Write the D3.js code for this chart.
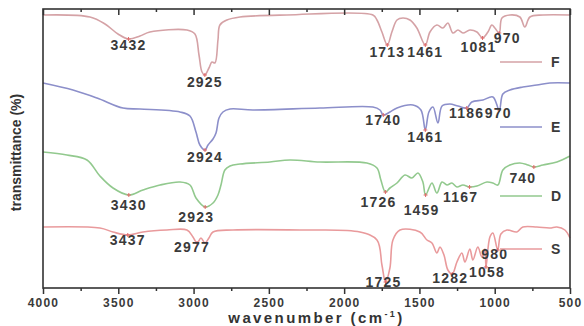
<!DOCTYPE html>
<html>
<head>
<meta charset="utf-8">
<script src="https://cdn.jsdelivr.net/npm/d3@7"></script>
<style>
  body { margin: 0; background: #fff; }
  svg { display: block; }
  text { font-family: "Liberation Sans", Arial, sans-serif; font-weight: bold; }
</style>
</head>
<body>
<div id="chart"></div>
<script>
// spectra: [wavenumber, transmittance (offset, arbitrary units)]
const seriesF = [
  [4000, 273], [3688, 271], [3588, 264], [3502, 254], [3432, 249], [3356, 252], [3290, 256],
  [3044, 258], [2991, 254], [2964, 233], [2944, 216], [2925, 213], [2898, 220], [2878, 226],
  [2858, 225], [2838, 248], [2825, 263], [2778, 268], [2692, 271], [2380, 273], [1809, 273],
  [1782, 268], [1749, 256], [1713, 243], [1683, 256], [1649, 268], [1610, 270], [1563, 268],
  [1517, 260], [1461, 243], [1430, 256], [1384, 263], [1344, 260], [1311, 265], [1278, 255],
  [1244, 258], [1211, 255], [1165, 258], [1118, 256], [1081, 250], [1045, 256], [1019, 263],
  [999, 260], [970, 255], [952, 270], [899, 273], [833, 271], [800, 261], [766, 271],
  [680, 273], [500, 273]
];
const seriesE = [
  [4000, 205], [3801, 198], [3641, 190], [3469, 180], [3356, 179], [3090, 176], [3024, 172],
  [2984, 156], [2958, 143], [2924, 138], [2904, 143], [2871, 149], [2851, 155], [2831, 170],
  [2805, 176], [2758, 179], [2606, 178], [2161, 180], [1809, 181], [1762, 178], [1740, 173],
  [1696, 176], [1649, 180], [1543, 183], [1490, 178], [1461, 158], [1437, 176], [1410, 181],
  [1377, 165], [1350, 182], [1298, 184], [1244, 182], [1186, 180], [1152, 186], [1078, 188],
  [1012, 191], [970, 178], [946, 194], [899, 198], [813, 201], [720, 203], [634, 205], [500, 205]
];
const seriesD = [
  [4000, 136], [3841, 133], [3708, 128], [3622, 112], [3535, 100], [3430, 93], [3336, 98],
  [3223, 103], [3090, 106], [3024, 103], [2984, 90], [2923, 81], [2871, 85], [2838, 93],
  [2818, 103], [2792, 118], [2758, 122], [2692, 124], [2493, 126], [2360, 128], [2161, 126],
  [1849, 125], [1782, 120], [1756, 108], [1726, 96], [1696, 100], [1649, 105], [1596, 113],
  [1550, 110], [1510, 115], [1477, 106], [1459, 93], [1417, 105], [1384, 95], [1350, 106],
  [1317, 103], [1284, 105], [1251, 101], [1211, 103], [1167, 101], [1118, 102], [1052, 106],
  [1012, 105], [979, 103], [946, 118], [899, 123], [833, 125], [780, 123], [740, 121],
  [680, 123], [587, 126], [500, 132]
];
const seriesS = [
  [4000, 61], [3622, 60], [3535, 56], [3437, 53], [3336, 56], [3177, 58], [3044, 58],
  [3004, 51], [2977, 45], [2951, 50], [2925, 45], [2898, 50], [2871, 56], [2738, 58],
  [2294, 58], [1895, 56], [1782, 48], [1749, 23], [1725, 6], [1696, 20], [1676, 48],
  [1629, 58], [1497, 56], [1450, 48], [1417, 45], [1384, 35], [1364, 41], [1337, 33],
  [1311, 18], [1282, 14], [1251, 26], [1218, 35], [1198, 26], [1165, 39], [1145, 28],
  [1112, 41], [1085, 31], [1065, 39], [1058, 21], [1032, 51], [1012, 55], [980, 38],
  [959, 54], [919, 58], [853, 56], [813, 61], [720, 61], [634, 60], [587, 61], [534, 58],
  [500, 50]
];

// marked peaks (wavenumbers)
const peaksF = [3432, 2925, 1713, 1461, 1081, 970];
const peaksE = [2924, 1740, 1461, 1186, 970];
const peaksD = [3430, 2923, 1726, 1459, 1167, 740];
const peaksS = [3437, 2977, 1725, 1282, 1058, 980];

const seriesNames = ["F", "E", "D", "S"];
const seriesColors = ["#d5a2a6", "#8c8fca", "#92c98e", "#e99a9c"];
const xTicks = [4000, 3500, 3000, 2500, 2000, 1500, 1000, 500];
const xMinorTicks = [3750, 3250, 2750, 2250, 1750, 1250, 750];

const W = 584, H = 326;
const mLeft = 43, mRight = 570, mTop = 9, mBottom = 288;

const svg = d3.select("#chart").append("svg").attr("width", W).attr("height", H);

const x = d3.scaleLinear().domain([4000, 500]).range([mLeft, mRight]);
const y = d3.scaleLinear().domain([0, 279]).range([mBottom, mTop]);

const allSeries = [seriesF, seriesE, seriesD, seriesS];
const allPeaks = [peaksF, peaksE, peaksD, peaksS];

// label nudges [dx, dy from peak to label centre]
const labelNudge = {
  "F1081": [-4, 9], "F970": [8, 5], "F3432": [0, 6],
  "E1740": [0, 5], "E1186": [0, 5], "E970": [-1, 3],
  "D3430": [0, 10], "D2923": [-9, 10], "D1726": [-7, 10], "D1459": [-4, 15], "D1167": [-9, 10], "D740": [-11, 11],
  "S3437": [0, 5], "S2977": [-5, 4], "S1725": [-2, 0], "S1282": [-2, 4], "S1058": [1, 5], "S980": [-3, 4]
};
const legendY = [62, 127, 196, 249];

const line = d3.line()
  .x(d => x(d[0]))
  .y(d => y(d[1]))
  .curve(d3.curveCatmullRom.alpha(0.5));

allSeries.forEach((s, i) => {
  svg.append("path")
    .attr("d", line(s))
    .attr("fill", "none")
    .attr("stroke", seriesColors[i])
    .attr("stroke-width", 1.6);
});

// peak markers and labels
allPeaks.forEach((pk, i) => {
  const s = allSeries[i];
  pk.forEach(wn => {
    const pt = s.find(d => d[0] === wn);
    const px = x(wn), py = y(pt[1]);
    svg.append("path")
      .attr("d", `M${px - 2},${py} H${px + 2} M${px},${py - 2} V${py + 2}`)
      .attr("stroke", "#e06a6a")
      .attr("stroke-width", 1);
    const n = labelNudge[seriesNames[i] + wn] || [0, 7];
    svg.append("text")
      .attr("x", px + n[0])
      .attr("y", py + n[1] + 5)
      .attr("text-anchor", "middle")
      .attr("font-size", 14)
      .attr("letter-spacing", 1.2)
      .attr("fill", "#3a3a3a")
      .text(wn);
  });
});

// legend
seriesNames.forEach((nm, i) => {
  svg.append("line")
    .attr("x1", 500).attr("x2", 542)
    .attr("y1", legendY[i]).attr("y2", legendY[i])
    .attr("stroke", seriesColors[i])
    .attr("stroke-width", 1.6);
  svg.append("text")
    .attr("x", 551).attr("y", legendY[i] + 5)
    .attr("font-size", 14)
    .attr("fill", "#3a3a3a")
    .text(nm);
});

// frame
svg.append("rect")
  .attr("x", mLeft).attr("y", mTop)
  .attr("width", mRight - mLeft).attr("height", mBottom - mTop)
  .attr("fill", "none")
  .attr("stroke", "#333")
  .attr("stroke-width", 1.6);

// bottom axis
const xAxis = svg.append("g")
  .attr("transform", `translate(0,${mBottom})`)
  .call(d3.axisBottom(x).tickValues(xTicks).tickSize(6).tickPadding(4).tickFormat(d3.format("d")));
xAxis.select(".domain").remove();
xAxis.selectAll("line").attr("stroke", "#333").attr("stroke-width", 1.5);
xAxis.selectAll("text")
  .attr("font-size", 12)
  .attr("letter-spacing", 1.2)
  .attr("fill", "#3a3a3a")
  .style("font-family", "'Liberation Sans', Arial, sans-serif")
  .style("font-weight", "bold");

svg.append("g")
  .attr("transform", `translate(0,${mBottom})`)
  .call(d3.axisBottom(x).tickValues(xMinorTicks).tickSize(3).tickFormat(""))
  .call(g => g.select(".domain").remove())
  .selectAll("line").attr("stroke", "#333").attr("stroke-width", 1.5);

// top axis (inward ticks)
svg.append("g")
  .attr("transform", `translate(0,${mTop})`)
  .call(d3.axisTop(x).tickValues(xTicks).tickSize(-6).tickFormat(""))
  .call(g => g.select(".domain").remove())
  .selectAll("line").attr("stroke", "#333").attr("stroke-width", 1.5);
svg.append("g")
  .attr("transform", `translate(0,${mTop})`)
  .call(d3.axisTop(x).tickValues(xMinorTicks).tickSize(-3).tickFormat(""))
  .call(g => g.select(".domain").remove())
  .selectAll("line").attr("stroke", "#333").attr("stroke-width", 1.5);

// axis titles
const xt = svg.append("text")
  .attr("x", (mLeft + mRight) / 2 + 10)
  .attr("y", 323)
  .attr("text-anchor", "middle")
  .attr("font-size", 15)
  .attr("letter-spacing", 2.4)
  .attr("fill", "#333");
xt.append("tspan").text("wavenumber (cm");
xt.append("tspan").attr("dy", -6).attr("font-size", 9).text("-1");
xt.append("tspan").attr("dy", 6).text(")");

svg.append("text")
  .attr("transform", `translate(21,${(mTop + mBottom) / 2 + 4}) rotate(-90)`)
  .attr("text-anchor", "middle")
  .attr("font-size", 14)
  .attr("fill", "#333")
  .text("transmittance (%)");
</script>
</body>
</html>
